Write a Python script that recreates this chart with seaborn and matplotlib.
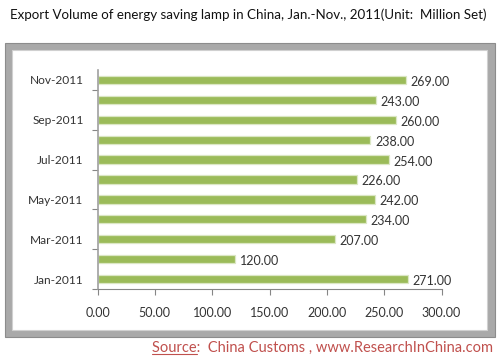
import matplotlib
matplotlib.use("Agg")
import matplotlib.pyplot as plt
import seaborn as sns
import pandas as pd
from matplotlib.patches import Rectangle
from matplotlib.lines import Line2D

months = ["Nov-2011", "Oct-2011", "Sep-2011", "Aug-2011", "Jul-2011", "Jun-2011",
          "May-2011", "Apr-2011", "Mar-2011", "Feb-2011", "Jan-2011"]
values = [269, 243, 260, 238, 254, 226, 242, 234, 207, 120, 271]
shown_labels = ["Nov-2011", "Sep-2011", "Jul-2011", "May-2011", "Mar-2011", "Jan-2011"]
xticks = [0, 50, 100, 150, 200, 250, 300]

sns.set_theme(style="white")
plt.rcParams['font.family'] = ['Lato', 'DejaVu Sans']

df = pd.DataFrame({"month": months, "value": values})

fig = plt.figure(figsize=(5.01, 3.62), dpi=100)
W, H = 501, 362

# frame
fig.patches.append(Rectangle((5 / W, 1 - 337 / H), 490 / W, 294 / H, transform=fig.transFigure,
                             facecolor="#a9a9a9", edgecolor="#8c8c8c", lw=0.8, zorder=-5))
fig.patches.append(Rectangle((12 / W, 1 - 330 / H), 475 / W, 280 / H, transform=fig.transFigure,
                             facecolor="white", edgecolor="#d0d0d0", lw=0.8, zorder=-4))

ax = fig.add_axes([97.5 / W, 1 - 289 / H, 344 / W, 219 / H])
ax.set_zorder(2)
ax.patch.set_alpha(0)
sns.barplot(data=df, y="month", x="value", order=months, orient="h", color="#9BBB59",
            width=0.42, edgecolor="#dbe7c4", linewidth=0.9, saturation=1, ax=ax)

for i, v in enumerate(values):
    ax.text(v + 4, i + 0.1, f"{v:.2f}", va="center", ha="left", fontsize=9, color="#333333")

ax.set_xlim(0, 300)
ax.set_ylim(len(months) - 0.5, -0.5)
ax.set_xticks(xticks)
ax.set_xticklabels([f"{t:.2f}" for t in xticks], fontsize=9, color="#333333")
ypos = [months.index(m) for m in shown_labels]
ax.set_yticks(ypos)
ax.set_yticklabels(shown_labels, fontsize=8.6, color="#333333")
ax.tick_params(axis="y", length=0, pad=10)
ax.set_yticks([0.5, 2.5, 4.5, 6.5, 8.5, 10.5], minor=True)
ax.tick_params(axis="y", which="minor", length=4, color="#868686", width=0.8, left=True)
ax.tick_params(axis="x", length=4, color="#868686", width=0.8, pad=9, direction="out", bottom=True)
ax.set_xlabel("")
ax.set_ylabel("")
for s in ["top", "right"]:
    ax.spines[s].set_visible(False)
ax.spines["left"].set_color("#a0a0a0")
ax.spines["left"].set_linewidth(1.2)
ax.spines["bottom"].set_color("#868686")
ax.spines["bottom"].set_linewidth(0.8)

fig.text(10 / W, 1 - 15 / H, "Export Volume of energy saving lamp in China, Jan.-Nov., 2011(Unit:  Million Set)",
         ha="left", va="center", fontsize=9.6, color="#111111")

src_color = "#C0504D"
fig.canvas.draw()
r = fig.canvas.get_renderer()
full = fig.text(152 / W, 1 - 348 / H, "Source:  China Customs , www.ResearchInChina.com",
                ha="left", va="center", fontsize=10, color=src_color)
bb = full.get_window_extent(r)
full.set_fontsize(10 * 338 / bb.width)
fig.canvas.draw()
bb = full.get_window_extent(r)
probe = fig.text(152 / W, 1 - 348 / H, "Source", ha="left", va="center",
                 fontsize=full.get_fontsize(), color="none")
pb = probe.get_window_extent(r)
probe.remove()
uy = (bb.y0 + 1) / H
fig.lines.append(Line2D([pb.x0 / W, pb.x1 / W], [uy, uy], transform=fig.transFigure,
                        color=src_color, lw=0.8))

fig.savefig("out.png", dpi=100)
